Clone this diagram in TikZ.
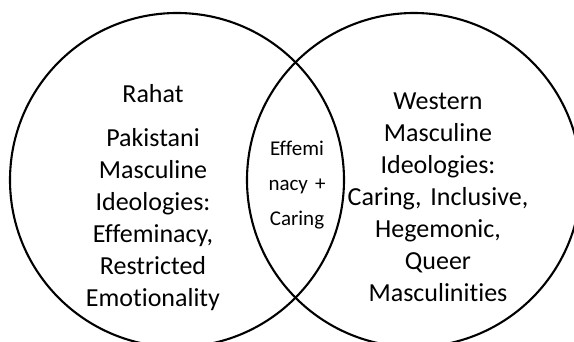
\documentclass[tikz,border=0pt]{standalone}
\usepackage{fontspec}
\setmainfont{Carlito}[Ligatures=NoCommon]
\frenchspacing
\begin{document}
\begin{tikzpicture}[x=1pt,y=-1pt,
  ring/.style={line width=2.1pt},
  bigtext/.style={font=\fontsize{26}{32}\selectfont, align=center, text width=220pt, inner sep=0pt, anchor=base},
  smalltext/.style={font=\fontsize{21}{34.7}\selectfont, align=center, text width=80pt, inner sep=0pt, anchor=base}]
\useasboundingbox (0,0) rectangle (574,342);
\clip (0,0) rectangle (574,342);
\draw[ring] (177,180) circle[radius=167];
\draw[ring] (414,180) circle[radius=167];
\node[bigtext] (rahat) at (153,103) {Rahat};
\node[bigtext] (pak) at (153,147) {Pakistani\\Masculine\\Ideologies:\\Effeminacy,\\Restricted\\Emotionality};
\node[smalltext] (mid) at (297,155.7) {Effemi\\nacy +\\Caring};
\node[bigtext] (west) at (438,110) {Western\\Masculine\\Ideologies:\\Caring, Inclusive,\\Hegemonic,\\Queer\\Masculinities};
\end{tikzpicture}
\end{document}
